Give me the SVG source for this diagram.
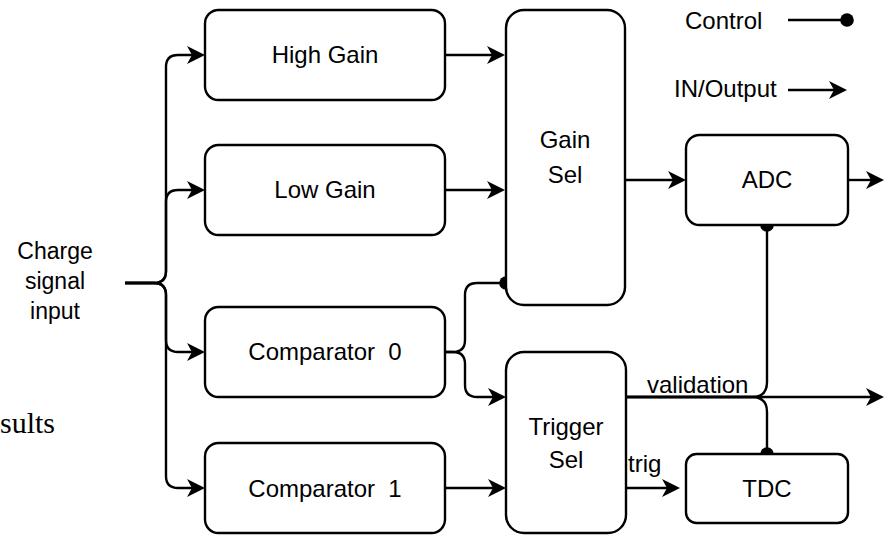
<svg xmlns="http://www.w3.org/2000/svg" width="884" height="535" viewBox="0 0 884 535">
<style>
.box{fill:#fff;stroke:#000;stroke-width:2.4}
.ln{fill:none;stroke:#000;stroke-width:2.4}
.ar{marker-end:url(#arr)}
.dt{marker-end:url(#dot)}
text{font-family:"Liberation Sans",Arial,sans-serif;font-size:24px;fill:#000;white-space:pre}
.c{text-anchor:middle}
</style>
<defs>
<marker id="arr" viewBox="0 0 18 20" refX="8" refY="10" markerWidth="18" markerHeight="20" markerUnits="userSpaceOnUse" orient="auto">
<path d="M18,10 L0,1 L5,10 L0,19 Z" fill="#000"/>
</marker>
<marker id="dot" viewBox="0 0 16 16" refX="8" refY="8" markerWidth="16" markerHeight="16" markerUnits="userSpaceOnUse">
<circle cx="8" cy="8" r="6.8" fill="#000"/>
</marker>
</defs>
<text x="0" y="433" style="font-family:'Liberation Serif','Times New Roman',serif;font-size:30px">sults</text>
<g id="input-label">
<text class="c" x="55" y="259" style="font-size:23px">Charge</text>
<text class="c" x="55" y="289" style="font-size:23px">signal</text>
<text class="c" x="55" y="319" style="font-size:23px">input</text>
</g>
<g id="connectors">
<path class="ln ar" d="M125,283 H154 Q166,283 166,271 V67 Q166,55 178,55 H195"/>
<path class="ln ar" d="M125,283 H154 Q166,283 166,271 V202 Q166,190 178,190 H195"/>
<path class="ln ar" d="M125,283 H154 Q166,283 166,295 V340 Q166,352 178,352 H195"/>
<path class="ln ar" d="M125,283 H154 Q166,283 166,295 V476 Q166,488 178,488 H195"/>
<path class="ln ar" d="M445,55 H495"/>
<path class="ln ar" d="M445,190 H495"/>
<path class="ln dt" d="M446,352 H453 Q465,352 465,340 V295 Q465,283 477,283 H506"/>
<path class="ln ar" d="M446,352 H453 Q465,352 465,364 V385 Q465,397 477,397 H496"/>
<path class="ln ar" d="M445,488 H496"/>
<path class="ln ar" d="M625,180 H676"/>
<path class="ln ar" d="M848,180 H874"/>
<path class="ln ar" d="M626,397 H874"/>
<path class="ln dt" d="M626,397 H752 Q767,397 767,382 V225"/>
<path class="ln dt" d="M626,397 H752 Q767,397 767,412 V454"/>
<path class="ln ar" d="M626,488 H670"/>
<text x="647" y="393">validation</text>
<text x="628" y="472">trig</text>
</g>
<g id="high-gain"><rect class="box" x="205" y="10" width="240" height="90" rx="13.5"/><text class="c" x="325" y="63">High Gain</text></g>
<g id="low-gain"><rect class="box" x="205" y="145" width="240" height="90" rx="13.5"/><text class="c" x="325" y="198">Low Gain</text></g>
<g id="comparator-0"><rect class="box" x="205" y="307" width="240" height="90" rx="13.5"/><text class="c" x="325" y="360">Comparator  0</text></g>
<g id="comparator-1"><rect class="box" x="205" y="443" width="240" height="90" rx="13.5"/><text class="c" x="325" y="497">Comparator  1</text></g>
<g id="gain-sel"><rect class="box" x="506" y="10" width="119" height="295" rx="18"/><text class="c" x="565" y="148">Gain</text><text class="c" x="565" y="183">Sel</text></g>
<g id="trigger-sel"><rect class="box" x="506" y="352" width="120" height="181" rx="18"/><text class="c" x="566" y="435">Trigger</text><text class="c" x="566" y="468">Sel</text></g>
<g id="adc"><rect class="box" x="686" y="135" width="162" height="90" rx="13.5"/><text class="c" x="767" y="188">ADC</text></g>
<g id="tdc"><rect class="box" x="686" y="454" width="162" height="69" rx="10.4"/><text class="c" x="767" y="497">TDC</text></g>
<g id="legend">
<text x="685" y="29">Control</text>
<path class="ln dt" d="M788,20 H847"/>
<text x="674" y="97">IN/Output</text>
<path class="ln ar" d="M788,90 H837"/>
</g>
</svg>
